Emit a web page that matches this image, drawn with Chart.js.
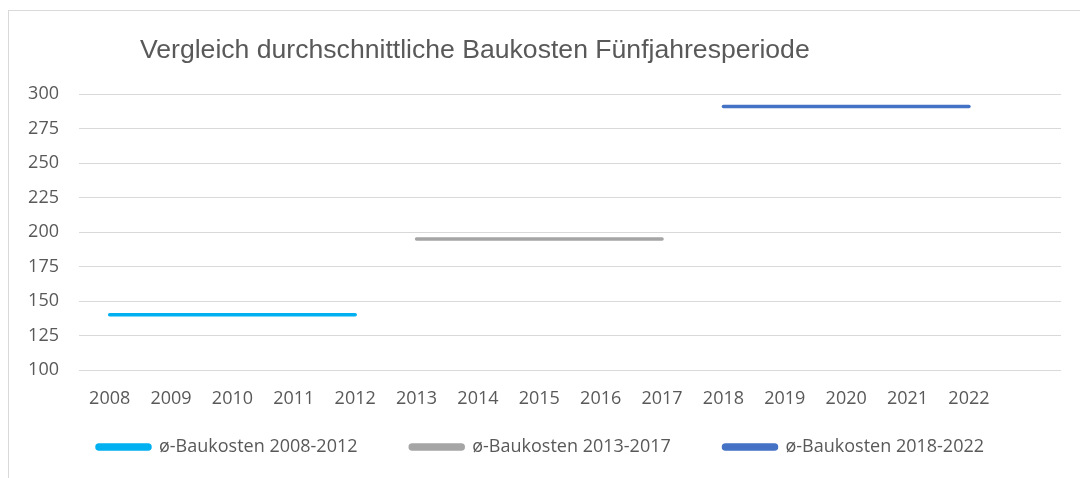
<!DOCTYPE html>
<html>
<head>
<meta charset="utf-8">
<script src="https://cdn.jsdelivr.net/npm/chart.js@4"></script>
<style>
  html, body { margin: 0; padding: 0; background: #fff; }
  #wrap { position: relative; width: 1080px; height: 478px; overflow: hidden; }
  #frame { position: absolute; left: 8px; top: 10px; width: 1200px; height: 600px; border: 1px solid #d9d9d9; box-sizing: border-box; }
  #title { position: absolute; left: 140px; top: 34px; font-family: "Liberation Sans", Arial, sans-serif; font-size: 26.6px; color: #595959; white-space: nowrap; }
  canvas { position: absolute; left: 0; top: 0; }
</style>
</head>
<body>
<div id="wrap">
  <div id="frame"></div>
  <canvas id="chart" width="1080" height="478"></canvas>
  <div id="title">Vergleich durchschnittliche Baukosten Fünfjahresperiode</div>
</div>
<script>
// Jahre (letzte Kategorie leer, wie im Original)
const years = ["2008", "2009", "2010", "2011", "2012", "2013", "2014", "2015", "2016", "2017", "2018", "2019", "2020", "2021", "2022", ""];
const seriesNames = ["ø-Baukosten 2008-2012", "ø-Baukosten 2013-2017", "ø-Baukosten 2018-2022"];
const avg0812 = [140, 140, 140, 140, 140, null, null, null, null, null, null, null, null, null, null, null];
const avg1317 = [null, null, null, null, null, 195, 195, 195, 195, 195, null, null, null, null, null, null];
const avg1822 = [null, null, null, null, null, null, null, null, null, null, 291, 291, 291, 291, 291, null];
const yTicks = [100, 125, 150, 175, 200, 225, 250, 275, 300];

const colors = ["#00b0f0", "#a5a5a5", "#4472c4"];
const textColor = "#595959";
const tickFont = { family: "'Open Sans', sans-serif", size: 18 };

function lineSet(label, data, color) {
  return {
    label: label,
    data: data,
    borderColor: color,
    backgroundColor: color,
    borderWidth: 3.5,
    borderCapStyle: "round",
    pointRadius: 0,
    spanGaps: false,
    tension: 0,
  };
}

const ctx = document.getElementById("chart").getContext("2d");
new Chart(ctx, {
  type: "line",
  data: {
    labels: years,
    datasets: [
      lineSet(seriesNames[0], avg0812, colors[0]),
      lineSet(seriesNames[1], avg1317, colors[1]),
      lineSet(seriesNames[2], avg1822, colors[2]),
    ],
  },
  options: {
    responsive: false,
    animation: false,
    layout: { padding: { left: 20, right: 19, top: 94, bottom: 12 } },
    scales: {
      x: {
        offset: true,
        grid: { display: false },
        border: { display: false },
        ticks: { color: textColor, font: tickFont, padding: 10, maxRotation: 0, autoSkip: false },
        afterFit: (scale) => { scale.height = 48; },
      },
      y: {
        min: 100,
        max: 300,
        afterBuildTicks: (scale) => { scale.ticks = yTicks.map((v) => ({ value: v })); },
        grid: { color: "#d9d9d9", lineWidth: 1, drawTicks: false },
        border: { display: false },
        ticks: { color: textColor, font: tickFont, padding: 20 },
        afterFit: (scale) => { scale.width = 59; },
      },
    },
    plugins: {
      legend: {
        position: "bottom",
        labels: {
          color: textColor,
          font: tickFont,
          boxWidth: 53,
          boxHeight: 4,
          useBorderRadius: true,
          borderRadius: 2,
          padding: 20,
          // etwas mehr Abstand zwischen den Einträgen (padding gilt sonst auch vertikal)
          generateLabels: (chart) => {
            const items = Chart.defaults.plugins.legend.labels.generateLabels(chart);
            items.forEach((it, i) => { if (i < items.length - 1) it.text += "       "; });
            return items;
          },
        },
      },
      tooltip: { enabled: false },
    },
  },
});
</script>
</body>
</html>
